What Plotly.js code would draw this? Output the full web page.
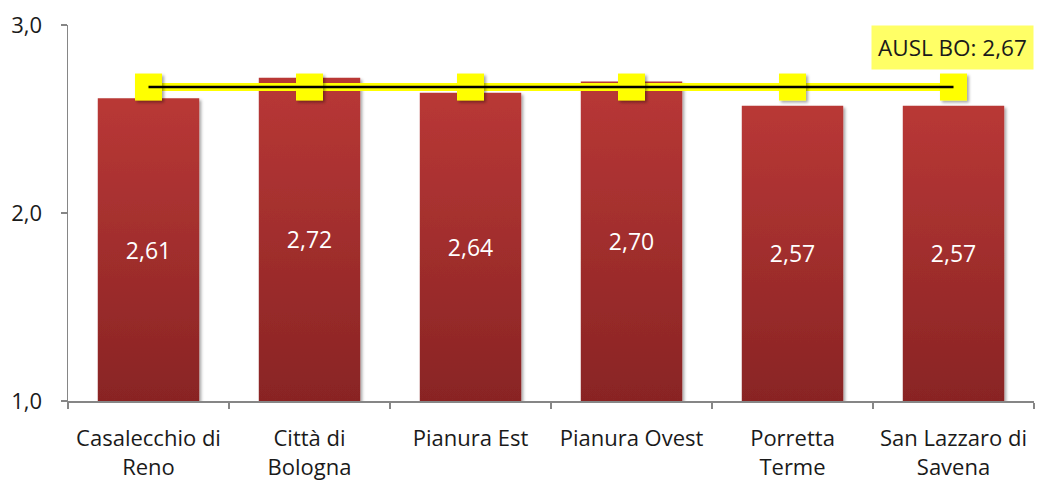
<!DOCTYPE html>
<html><head><meta charset="utf-8">
<script src="https://cdn.plot.ly/plotly-3.0.1.min.js"></script>
<style>body{margin:0;background:#fff}#c{width:1038px;height:480px}</style>
</head><body><div id="c"></div>
<script>
const categories = ["Casalecchio di<br>Reno","Città di<br>Bologna","Pianura Est","Pianura Ovest","Porretta<br>Terme","San Lazzaro di<br>Savena"];
const values = [2.61, 2.72, 2.64, 2.70, 2.57, 2.57];
const auslValue = 2.67;
const auslLabel = "AUSL BO: 2,67";
const yTicks = [1, 2, 3];

const fmt = v => v.toFixed(2).replace('.', ',');
const FONT = "Open Sans, sans-serif";

const bars = {
  type: 'bar', x: categories, y: values.map(v => v - 1), base: 1,
  marker: {color: '#A32D2C', line: {width: 0}},
  text: values.map(fmt), textposition: 'inside', insidetextanchor: 'middle',
  textfont: {color: '#ffffff', size: 23, family: FONT},
  hoverinfo: 'skip', width: 0.63
};
const avgYellow = {
  type: 'scatter', mode: 'lines+markers', x: categories, y: categories.map(() => auslValue),
  line: {color: '#FFFF00', width: 8},
  marker: {symbol: 'square', size: 27, color: '#FFFF00', line: {width: 0}},
  hoverinfo: 'skip'
};
const avgBlack = {
  type: 'scatter', mode: 'lines', x: categories, y: categories.map(() => auslValue),
  line: {color: '#000000', width: 2.5}, hoverinfo: 'skip'
};

const layout = {
  width: 1038, height: 480,
  margin: {l: 68, r: 4, t: 25, b: 79},
  paper_bgcolor: '#ffffff', plot_bgcolor: '#ffffff',
  separators: ',.',
  showlegend: false,
  font: {family: FONT, size: 22, color: '#1a1a1a'},
  xaxis: {
    type: 'category', showgrid: false, zeroline: false,
    showline: true, linecolor: '#868686', linewidth: 1.5,
    ticks: 'outside', tickson: 'boundaries', ticklen: 6, tickcolor: '#868686', tickwidth: 1.5,
    tickfont: {size: 22, family: FONT, color: '#1a1a1a'},
    ticklabelstandoff: 17,
    fixedrange: true
  },
  yaxis: {
    range: [1, 3], tickvals: yTicks, tickformat: '.1f',
    showgrid: false, zeroline: false,
    showline: true, linecolor: '#868686', linewidth: 1.5,
    ticks: 'outside', ticklen: 6, tickcolor: '#868686', tickwidth: 1.5,
    tickfont: {size: 22, family: FONT, color: '#1a1a1a'},
    ticklabelstandoff: 14,
    fixedrange: true
  },
  annotations: [{
    text: auslLabel, xref: 'paper', yref: 'paper', x: 1.0, y: 1.0,
    xanchor: 'right', yanchor: 'bottom', yshift: -45, showarrow: false,
    bgcolor: '#FFFF66', borderpad: 6,
    font: {size: 22.5, family: FONT, color: '#1a1a1a'}
  }]
};

Plotly.newPlot('c', [bars, avgYellow, avgBlack], layout, {displayModeBar: false, staticPlot: true}).then(gd => {
  const svg = gd.querySelector('svg.main-svg');
  const ns = 'http://www.w3.org/2000/svg';
  let defs = svg.querySelector('defs');
  const lg = document.createElementNS(ns, 'linearGradient');
  lg.setAttribute('id', 'barGrad'); lg.setAttribute('x1', '0'); lg.setAttribute('y1', '0');
  lg.setAttribute('x2', '0'); lg.setAttribute('y2', '1');
  [['0', '#B93836'], ['1', '#892424']].forEach(([o, c]) => {
    const s = document.createElementNS(ns, 'stop');
    s.setAttribute('offset', o); s.setAttribute('stop-color', c); lg.appendChild(s);
  });
  defs.appendChild(lg);
  const f = document.createElementNS(ns, 'filter');
  f.setAttribute('id', 'shd'); f.setAttribute('x', '-30%'); f.setAttribute('y', '-30%');
  f.setAttribute('width', '160%'); f.setAttribute('height', '160%');
  f.innerHTML = '<feDropShadow dx="2" dy="2" stdDeviation="1.5" flood-color="#000" flood-opacity="0.35"/>';
  defs.appendChild(f);
  gd.querySelectorAll('.barlayer .point path').forEach(p => {
    p.style.fill = 'url(#barGrad)';
    p.setAttribute('filter', 'url(#shd)');
  });
  gd.querySelectorAll('.scatterlayer .trace:nth-child(1) .points path').forEach(p => {
    p.setAttribute('filter', 'url(#shd)');
  });
});
</script></body></html>
